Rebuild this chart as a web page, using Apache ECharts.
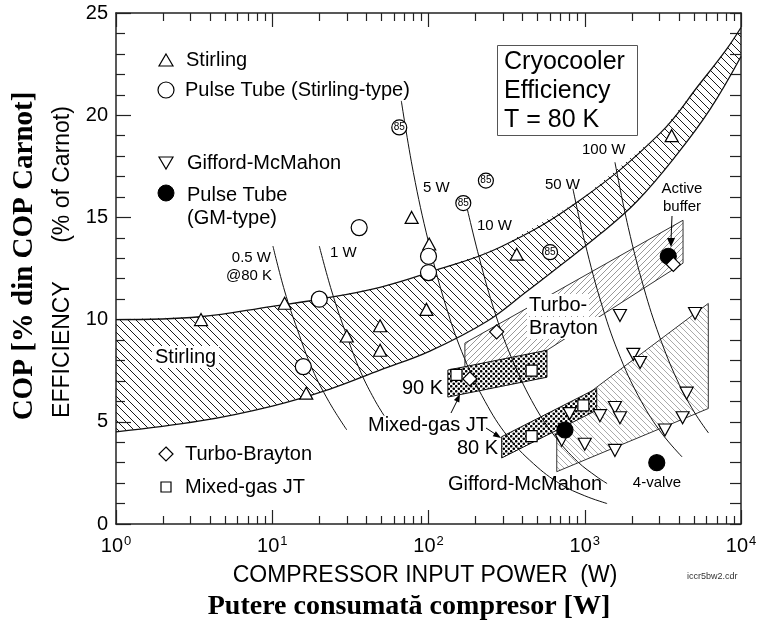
<!DOCTYPE html>
<html>
<head>
<meta charset="utf-8">
<script src="https://cdn.jsdelivr.net/npm/echarts@6/dist/echarts.min.js"></script>
<style>
  html, body { margin: 0; padding: 0; background: #fff; }
  #chart { width: 761px; height: 630px; }
</style>
</head>
<body>
<div id="chart"></div>
<script>
// ---- data (compressor input power in W, efficiency in % of Carnot) ----
const majorX = [1, 10, 100, 1000, 10000];
const minorX = [2, 3, 4, 5, 6, 7, 8, 9, 20, 30, 40, 50, 60, 70, 80, 90,
  200, 300, 400, 500, 600, 700, 800, 900, 2000, 3000, 4000, 5000, 6000, 7000, 8000, 9000];

const stirlingUpper = [[1, 10.0], [3.45, 10.14], [10, 10.65], [20.2, 11.0], [48.9, 11.58], [102, 12.32],
  [287, 13.54], [932, 15.84], [3030, 19.11], [5465, 21.55], [8137, 23.26], [10000, 24.29]];
const stirlingLower = [[1, 4.51], [3.45, 5.04], [10, 5.77], [23.4, 6.6], [48.9, 7.53], [102, 8.46],
  [237, 9.92], [427, 11.39], [626, 12.37], [1248, 14.17], [2160, 15.79], [3894, 18.08], [6333, 20.28], [10000, 22.87]];

const turboRegion = [[171, 8.85], [4256, 14.86], [4256, 12.76], [573, 8.5], [171, 7.43]];
const gmRegion = [[662, 5.23], [6177, 10.79], [6177, 5.65], [662, 2.56]];
const jt90Region = [[133, 7.53], [573, 8.5], [573, 7.18], [133, 6.21]];
const jt80Region = [[294, 4.27], [1193, 6.63], [1193, 5.57], [294, 3.23]];

const line05W = [[10.1, 13.6], [12, 11.4], [14.5, 9.5], [18, 7.6], [23, 6.0], [30, 4.6]];
const line1W = [[20, 13.6], [24, 11.4], [30, 9.2], [37, 7.4], [45, 6.1], [52, 5.3]];
const line5W = [[67, 20.7], [80, 17.2], [100, 13.8], [130, 10.6], [170, 8.1], [230, 6.0], [320, 4.3],
  [470, 2.95], [700, 1.95], [1000, 1.38], [1390, 1.0]];
const line10W = [[170, 16.0], [210, 13.1], [270, 10.2], [350, 7.9], [480, 5.75], [650, 4.25], [900, 3.05],
  [1200, 2.3], [1390, 1.98]];
const line50W = [[840, 16.4], [1000, 13.8], [1300, 10.6], [1700, 8.1], [2300, 6.0], [3100, 4.45], [4200, 3.28]];
const line100W = [[1560, 17.7], [1900, 14.5], [2400, 11.5], [3000, 9.2], [3900, 7.05], [5000, 5.5], [6200, 4.45]];

const stirlingPts = [[3.5, 10.0], [12, 10.8], [16.5, 6.4], [30, 9.2], [49, 9.7], [49, 8.5], [97, 10.5],
  [78, 15.0], [101, 13.7], [367, 13.2], [3600, 19.0]];
const ptStirlingPts = [[15.8, 7.7], [20, 11.0], [36, 14.5], [100, 13.1], [100, 12.3]];
const pt85Pts = [[65, 19.4], [167, 15.7], [233, 16.8], [600, 13.3]];
const gmPts = [[1680, 10.2], [5080, 10.3], [2045, 8.3], [2260, 7.9], [4490, 6.4], [800, 5.4], [1250, 5.3],
  [1560, 5.7], [1680, 5.2], [4230, 5.2], [3260, 4.6], [712, 4.1], [1000, 3.9], [1560, 3.6]];
const ptGmPts = [[747, 4.6], [2890, 3.0], [3425, 13.1]];
const turboPts = [[273, 9.4], [184, 7.1], [3690, 12.7]];
const jtPts = [[151, 7.3], [457, 7.5], [457, 4.3], [980, 5.8]];

// ---- fill patterns ----
function hatch(size, color, dir, width) {
  const c = document.createElement('canvas');
  c.width = size; c.height = size;
  const g = c.getContext('2d');
  g.strokeStyle = color; g.lineWidth = width;
  g.beginPath();
  for (let k = -size; k <= size; k += size) {
    if (dir === 'down') { g.moveTo(k, 0); g.lineTo(k + size, size); }
    else { g.moveTo(k, size); g.lineTo(k + size, 0); }
  }
  g.stroke();
  return { image: c, repeat: 'repeat' };
}
function dots(size, color, r) {
  const c = document.createElement('canvas');
  c.width = size; c.height = size;
  const g = c.getContext('2d');
  g.fillStyle = '#fff'; g.fillRect(0, 0, size, size);
  g.fillStyle = color;
  [[size / 4, size / 4], [size * 3 / 4, size * 3 / 4]].forEach(function (p) {
    g.beginPath(); g.arc(p[0], p[1], r, 0, Math.PI * 2); g.fill();
  });
  return { image: c, repeat: 'repeat' };
}

const SANS = '"Liberation Sans", Arial, Helvetica, sans-serif';
const SERIF = '"Liberation Serif", "Times New Roman", serif';

function region(name, pts, fill, stroke, z) {
  return {
    type: 'custom', name: name, z: z, clip: true, silent: true,
    data: [[1, 0]],
    renderItem: function (params, api) {
      return {
        type: 'polygon',
        shape: { points: pts.map(function (p) { return api.coord(p); }) },
        style: { fill: fill, stroke: stroke, lineWidth: 1 }
      };
    }
  };
}
function curve(name, data, width) {
  return {
    type: 'line', name: name, data: data, smooth: 0.4, showSymbol: false, silent: true, z: 4,
    lineStyle: { color: '#111', width: width || 1 }
  };
}
function marks(name, data, symbol, size, fill, rotate) {
  return {
    type: 'scatter', name: name, data: data, symbol: symbol, symbolSize: size, symbolRotate: rotate || 0,
    z: 6, silent: true,
    itemStyle: { color: fill, borderColor: '#000', borderWidth: 1.2, opacity: 1 }
  };
}
function txt(x, y, text, size, align, extra) {
  return {
    type: 'text', x: x, y: y, z: 100, silent: true,
    style: Object.assign({
      text: text, font: size + 'px ' + SANS, fill: '#000',
      align: align || 'left', textAlign: align || 'left', verticalAlign: 'middle', textVerticalAlign: 'middle'
    }, extra || {})
  };
}
function arrowHead(tip, b1, b2) {
  return { type: 'polygon', z: 100, silent: true, shape: { points: [tip, b1, b2] }, style: { fill: '#000' } };
}
function seg(x1, y1, x2, y2) {
  return { type: 'line', z: 100, silent: true, shape: { x1: x1, y1: y1, x2: x2, y2: y2 }, style: { stroke: '#000', lineWidth: 1 } };
}

const axisLineStyle = { color: '#222', width: 1.5 };
const tickStyle = { color: '#222', width: 1.2 };
function xAxisDef(pos, values, len, withLine, withLabel) {
  return {
    type: 'log', logBase: 10, min: 1, max: 10000, position: pos,
    axisLine: { show: withLine, onZero: false, lineStyle: axisLineStyle },
    axisTick: { show: true, inside: true, length: len, customValues: values, lineStyle: tickStyle },
    axisLabel: withLabel ? {
      show: true, customValues: majorX, margin: 11,
      formatter: function (v) { return '{b|10}{s|' + Math.round(Math.log10(v)) + '}'; },
      rich: {
        b: { fontSize: 20, fontFamily: SANS, color: '#000' },
        s: { fontSize: 13, fontFamily: SANS, color: '#000', padding: [0, 0, 10, 1] }
      }
    } : { show: false },
    splitLine: { show: false }
  };
}

const chart = echarts.init(document.getElementById('chart'), null, { renderer: 'canvas' });
chart.setOption({
  animation: false,
  backgroundColor: '#fff',
  grid: { left: 116, right: 20, top: 13, bottom: 106, containLabel: false, outerBoundsMode: 'none' },
  xAxis: [
    xAxisDef('bottom', majorX, 14, true, true),
    xAxisDef('bottom', minorX, 8, false, false),
    xAxisDef('top', majorX, 14, true, false),
    xAxisDef('top', minorX, 8, false, false)
  ],
  yAxis: [
    {
      type: 'value', min: 0, max: 25, interval: 5, position: 'left',
      axisLine: { show: true, lineStyle: axisLineStyle },
      axisTick: { show: true, inside: true, length: 15, lineStyle: tickStyle },
      minorTick: { show: true, splitNumber: 5, length: 9, lineStyle: tickStyle },
      axisLabel: { fontSize: 20, fontFamily: SANS, color: '#000', margin: 8 },
      splitLine: { show: false }
    },
    {
      type: 'value', min: 0, max: 25, interval: 5, position: 'right',
      axisLine: { show: true, lineStyle: axisLineStyle },
      axisTick: { show: true, inside: true, length: 11, lineStyle: tickStyle },
      minorTick: { show: true, splitNumber: 5, length: 11, lineStyle: tickStyle },
      axisLabel: { show: false },
      splitLine: { show: false }
    }
  ],
  series: [
    region('Stirling band', stirlingUpper.concat(stirlingLower.slice().reverse()), hatch(8, '#1a1a1a', 'down', 1), null, 1),
    region('Gifford-McMahon', gmRegion, hatch(6, '#aaa', 'down', 1), '#333', 2),
    region('Turbo-Brayton', turboRegion, hatch(6, '#999', 'up', 1), '#333', 2),
    region('Mixed-gas JT 90 K', jt90Region, dots(5, '#000', 1.3), '#111', 3),
    region('Mixed-gas JT 80 K', jt80Region, dots(5, '#000', 1.3), '#111', 3),
    curve('Stirling upper', stirlingUpper, 1.3),
    curve('Stirling lower', stirlingLower, 1.3),
    curve('0.5 W', line05W), curve('1 W', line1W), curve('5 W', line5W),
    curve('10 W', line10W), curve('50 W', line50W), curve('100 W', line100W),
    marks('Stirling', stirlingPts, 'triangle', [13, 12], '#fff'),
    marks('Pulse Tube (Stirling-type)', ptStirlingPts, 'circle', 16, '#fff'),
    Object.assign(marks('Pulse Tube 85', pt85Pts, 'circle', 15, '#fff'), {
      label: { show: true, position: 'inside', formatter: '85', fontSize: 10, fontFamily: SANS, color: '#000' }
    }),
    marks('Gifford-McMahon', gmPts, 'triangle', [13, 12], '#fff', 180),
    marks('Pulse Tube (GM-type)', ptGmPts, 'circle', 16, '#000'),
    marks('Turbo-Brayton', turboPts, 'diamond', 14, '#fff'),
    marks('Mixed-gas JT', jtPts, 'rect', 11, '#fff')
  ],
  graphic: [
    // legend
    { type: 'polygon', z: 100, shape: { points: [[166, 54], [173, 66], [159, 66]] }, style: { fill: '#fff', stroke: '#000', lineWidth: 1.2 } },
    { type: 'circle', z: 100, shape: { cx: 166, cy: 90, r: 8 }, style: { fill: '#fff', stroke: '#000', lineWidth: 1.2 } },
    { type: 'polygon', z: 100, shape: { points: [[159, 157], [173, 157], [166, 169]] }, style: { fill: '#fff', stroke: '#000', lineWidth: 1.2 } },
    { type: 'circle', z: 100, shape: { cx: 166, cy: 193, r: 8 }, style: { fill: '#000', stroke: '#000' } },
    { type: 'polygon', z: 100, shape: { points: [[166, 447], [173, 454], [166, 461], [159, 454]] }, style: { fill: '#fff', stroke: '#000', lineWidth: 1.2 } },
    { type: 'rect', z: 100, shape: { x: 161, y: 482, width: 10, height: 10 }, style: { fill: '#fff', stroke: '#000', lineWidth: 1.2 } },
    txt(186, 60, 'Stirling', 20),
    txt(185, 90, 'Pulse Tube (Stirling-type)', 20),
    txt(187, 163, 'Gifford-McMahon', 20),
    txt(187, 195, 'Pulse Tube', 20),
    txt(187, 218, '(GM-type)', 20),
    txt(185, 454, 'Turbo-Brayton', 20),
    txt(185, 487, 'Mixed-gas JT', 20),
    // title box
    { type: 'rect', z: 99, shape: { x: 497.5, y: 45.5, width: 140, height: 90 }, style: { fill: '#fff', stroke: '#555', lineWidth: 1 } },
    txt(504, 62, 'Cryocooler', 25),
    txt(504, 91, 'Efficiency', 25),
    txt(504, 120, 'T = 80 K', 25),
    // cooling power labels
    txt(271, 258, '0.5 W', 15, 'right'),
    txt(272, 276, '@80 K', 15, 'right'),
    txt(330, 253, '1 W', 15),
    txt(423, 188, '5 W', 15),
    txt(477, 226, '10 W', 15),
    txt(545, 185, '50 W', 15),
    txt(582, 150, '100 W', 15),
    txt(682, 189, 'Active', 15, 'center'),
    txt(682, 207, 'buffer', 15, 'center'),
    seg(672, 216, 671, 240),
    arrowHead([671, 247], [667, 238], [675, 238]),
    // region labels
    txt(152, 357, 'Stirling', 20, 'left', { backgroundColor: '#fff', padding: [1, 3] }),
    txt(527, 305, 'Turbo-', 20, 'left', { backgroundColor: '#fff', padding: [1, 2] }),
    txt(527, 328, 'Brayton', 20, 'left', { backgroundColor: '#fff', padding: [1, 2] }),
    txt(402, 388, '90 K', 20),
    txt(368, 425, 'Mixed-gas JT', 20),
    seg(451, 413, 458, 399),
    arrowHead([460, 394], [459.3, 402.5], [453.9, 399.9]),
    seg(486, 428, 496, 434.5),
    arrowHead([501, 438], [492.7, 436.2], [495.9, 431.2]),
    txt(457, 448, '80 K', 20),
    txt(448, 484, 'Gifford-McMahon', 20),
    txt(657, 483, '4-valve', 15, 'center'),
    // axis titles
    txt(425, 576, 'COMPRESSOR INPUT POWER  (W)', 23, 'center'),
    txt(409, 607, 'Putere consumată compresor [W]', 28, 'center', { font: 'bold 28px ' + SERIF }),
    txt(687, 577, 'iccr5bw2.cdr', 9, 'left', { fill: '#333' }),
    Object.assign(txt(63, 262, 'EFFICIENCY      (% of Carnot)', 23, 'center'), { rotation: Math.PI / 2 }),
    Object.assign(txt(25, 256, 'COP [% din COP Carnot]', 29, 'center', { font: 'bold 29px ' + SERIF }), { rotation: Math.PI / 2 })
  ]
});
</script>
</body>
</html>
